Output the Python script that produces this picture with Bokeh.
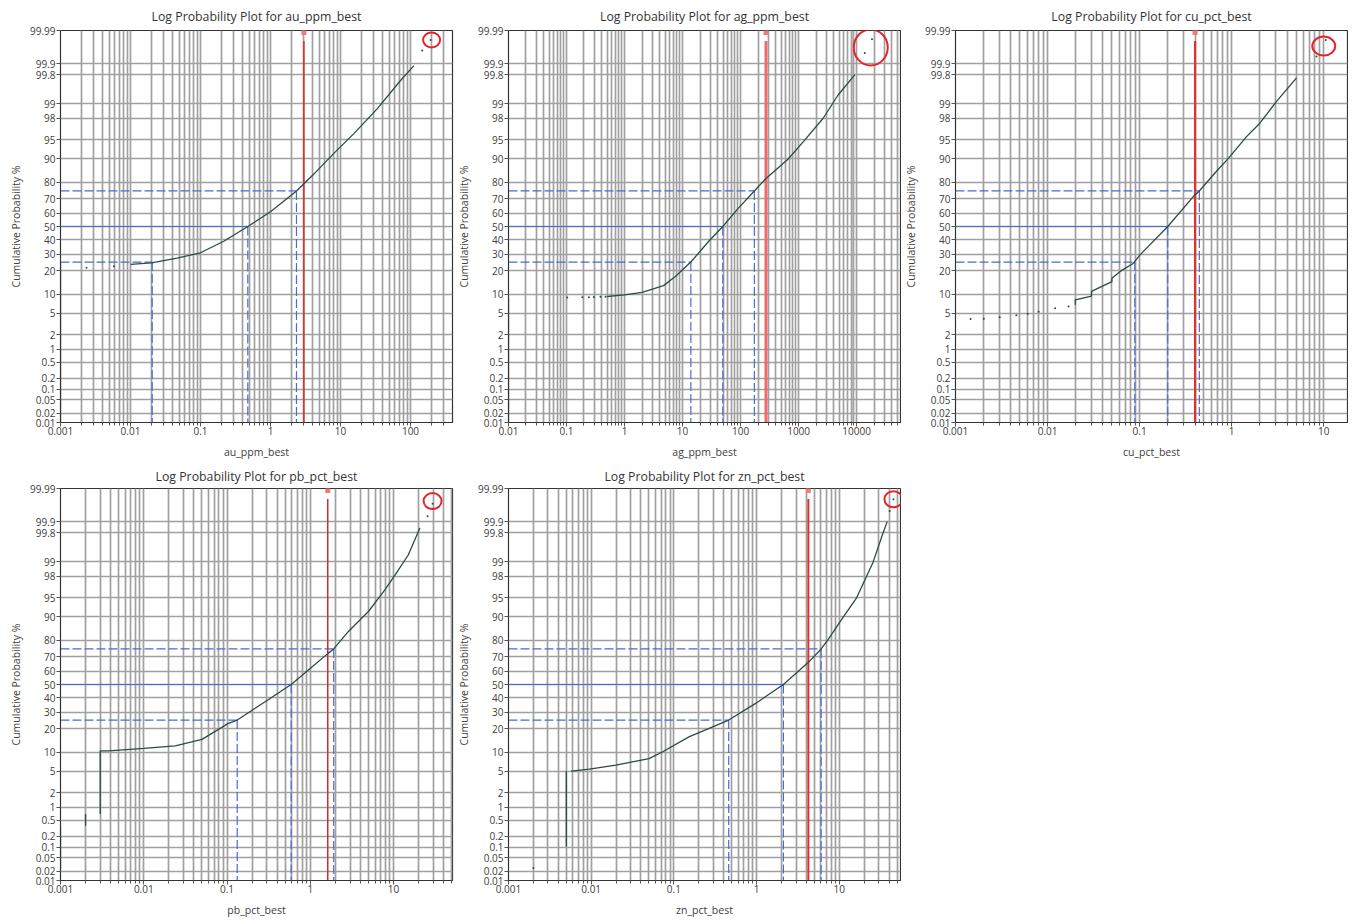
from statistics import NormalDist
import math
from bokeh.plotting import figure
from bokeh.layouts import gridplot
from bokeh.models import FixedTicker, Range1d
from bokeh.embed import file_html
from bokeh.resources import INLINE

# ---------------- data ----------------
PROB_TICKS = [0.01, 0.02, 0.05, 0.1, 0.2, 0.5, 1, 2, 5, 10, 20, 30, 40, 50,
              60, 70, 80, 90, 95, 98, 99, 99.8, 99.9, 99.99]
PROB_LABELS = ["0.01", "0.02", "0.05", "0.1", "0.2", "0.5", "1", "2", "5", "10",
               "20", "30", "40", "50", "60", "70", "80", "90", "95", "98", "99",
               "99.8", "99.9", "99.99"]

variables = ["au_ppm_best", "ag_ppm_best", "cu_pct_best", "pb_pct_best", "zn_pct_best"]

# au
au_curve_x = [0.0100, 0.0200, 0.0464, 0.100, 0.215, 0.474, 1.00, 2.35, 4.16, 7.9, 15.5, 33.4, 72, 112]
au_curve_p = [23.6, 24.5, 27.4, 30.9, 39.0, 50.0, 61.0, 75.0, 84.0, 91.6, 96.1, 98.72, 99.72, 99.887]
au_dots_x = [0.00235, 0.0058, 147, 193]
au_dots_p = [21.7, 22.6, 99.958, 99.98]
au_step_x = [0.001]
au_step_p0 = [0.01]
au_step_p1 = [24.5]
au_quart = [0.0204, 0.474, 2.35]
au_red = 3.0
au_max = (200, 99.98)

# ag
ag_curve_x = [0.5, 1.0, 2.0, 4.7, 7.5, 13.9, 28, 49.4, 91.6, 172.6, 274, 662, 1282, 2650, 4790, 9270]
ag_curve_p = [9.2, 9.7, 10.6, 13.1, 17.1, 25.0, 38.8, 50.0, 63.6, 75.0, 81.9, 90.0, 95.0, 98.0, 99.37, 99.8]
ag_dots_x = [0.103, 0.187, 0.243, 0.296, 0.385, 0.47, 13800, 18400]
ag_dots_p = [8.9, 8.95, 9.0, 9.05, 9.1, 9.15, 99.95, 99.981]
ag_step_x = [0.01]
ag_step_p0 = [0.01]
ag_step_p1 = [8.9]
ag_quart = [13.9, 49.4, 172.6]
ag_red = 274
ag_max = (17500, 99.966)

# cu
cu_curve_x = [0.02, 0.02, 0.03, 0.03, 0.05, 0.05, 0.0615, 0.0857, 0.101, 0.202, 0.383, 0.445,
              0.687, 0.92, 1.45, 2.02, 3.07, 5.06]
cu_curve_p = [6.85, 8.2, 9.3, 10.9, 14.8, 16.3, 19.7, 24.3, 29.5, 50.0, 71.5, 75.0,
              85.4, 90.2, 95.6, 97.5, 99.12, 99.76]
cu_dots_x = [0.00146, 0.00203, 0.00302, 0.00458, 0.00608, 0.008, 0.0121, 0.0169, 8.34, 10.5]
cu_dots_p = [3.98, 4.0, 4.27, 4.6, 4.87, 5.3, 6.05, 6.45, 99.937, 99.98]
cu_step_x = []
cu_step_p0 = []
cu_step_p1 = []
cu_quart = [0.0887, 0.202, 0.445]
cu_red = 0.4
cu_max = (10, 99.969)

# pb
pb_curve_x = [0.003, 0.0038, 0.01, 0.0239, 0.05, 0.1026, 0.1325, 0.315, 0.589, 1.02, 1.62, 1.91,
              2.87, 4.99, 7.89, 10.4, 15.0, 20.7]
pb_curve_p = [10.4, 10.4, 11.3, 12.2, 14.9, 22.9, 25.0, 38.8, 50.0, 62.4, 72.1, 75.0,
              84.3, 91.7, 96.4, 98.1, 99.3, 99.85]
pb_dots_x = [25.6, 29.4]
pb_dots_p = [99.93, 99.97]
pb_step_x = [0.001, 0.002, 0.003]
pb_step_p0 = [0.023, 0.37, 0.7]
pb_step_p1 = [0.35, 0.7, 10.4]
pb_quart = [0.1325, 0.589, 1.91]
pb_red = 1.62
pb_max = (29.4, 99.975)

# zn
zn_curve_x = [0.0057, 0.0095, 0.0199, 0.05, 0.0724, 0.152, 0.46, 0.964, 2.11, 4.23, 6.03,
              7.25, 11.2, 16.2, 21.4, 25.7, 33.9, 38.0]
zn_curve_p = [5.0, 5.4, 6.3, 8.0, 10.0, 16.0, 25.0, 35.8, 50.0, 66.3, 75.0,
              80.0, 90.0, 95.0, 98.0, 99.0, 99.8, 99.9]
zn_dots_x = [0.002, 40.7, 45.2]
zn_dots_p = [0.025, 99.95, 99.978]
zn_step_x = [0.005]
zn_step_p0 = [0.105]
zn_step_p1 = [5.0]
zn_quart = [0.46, 2.11, 6.03]
zn_red = 4.23
zn_max = (45.2, 99.978)

x_ranges = [(0.001, 398), (0.01, 57000), (0.001, 18.1), (0.001, 51), (0.001, 55)]

# ---------------- helpers ----------------
ND = NormalDist()


def z(p):
    return ND.inv_cdf(p / 100.0)


ZMIN, ZMAX = z(0.01), z(99.99)
Y_TICKS = [z(p) for p in PROB_TICKS]
Y_OVR = {t: lab for t, lab in zip(Y_TICKS, PROB_LABELS)}

FONT = "Open Sans"
GRID = "#a0a0a0"
CURVE = "#2d4a47"
QBLUE = "#4a6bd0"
RED = "#e3262a"


def fmt(v):
    if v >= 1:
        return str(int(round(v)))
    return f"{v:g}"


def make_panel(var, xr, cx, cp, dx, dp, sx, sp0, sp1, quart, red, mx, circ_wh,
               red_w, red_col, borders, title_standoff):
    xmin, xmax = xr
    bl, br, bt, bb = borders
    p = figure(x_axis_type="log", x_range=Range1d(xmin, xmax), y_range=Range1d(ZMIN, ZMAX),
               frame_width=392, frame_height=392, output_backend="svg",
               toolbar_location=None, min_border_left=bl, min_border_right=br,
               min_border_top=bt, min_border_bottom=bb, background_fill_color="white",
               border_fill_color="white")
    d0 = int(math.floor(math.log10(xmin) + 1e-9))
    d1 = int(math.ceil(math.log10(xmax)))
    majors, minors = [], []
    for d in range(d0, d1 + 1):
        base = 10.0 ** d
        b = float(f"{base:.12g}")
        if xmin * 0.999 <= b <= xmax * 1.001:
            majors.append(b)
        for k in range(2, 10):
            v = float(f"{k * base:.12g}")
            if xmin <= v <= xmax:
                minors.append(v)
    xt = FixedTicker(ticks=majors, minor_ticks=minors)
    p.xaxis.ticker = xt
    p.xgrid.ticker = xt
    p.xaxis.major_label_overrides = {t: fmt(t) for t in majors}
    yt = FixedTicker(ticks=Y_TICKS, minor_ticks=[])
    p.yaxis.ticker = yt
    p.ygrid.ticker = yt
    p.yaxis.major_label_overrides = Y_OVR

    for g in (p.xgrid, p.ygrid):
        g.grid_line_color = GRID
        g.grid_line_width = 1.7
    p.xgrid.minor_grid_line_color = GRID
    p.xgrid.minor_grid_line_width = 1.7

    for ax in (p.xaxis, p.yaxis):
        ax.axis_line_color = "#333333"
        ax.major_tick_line_color = "#555555"
        ax.minor_tick_line_color = "#555555"
        ax.major_tick_in = 0
        ax.major_tick_out = 4
        ax.minor_tick_in = 0
        ax.major_label_text_font = FONT
        ax.major_label_text_font_size = "10px"
        ax.major_label_text_color = "#404040"
        ax.axis_label_text_font = FONT
        ax.axis_label_text_font_size = "10.5px"
        ax.axis_label_text_font_style = "normal"
        ax.axis_label_text_color = "#404040"
    p.xaxis.minor_tick_out = 3
    p.yaxis.minor_tick_out = 0
    p.xaxis.major_label_standoff = 0
    p.yaxis.major_label_standoff = 1
    p.xaxis.axis_label_standoff = 7
    p.yaxis.axis_label_standoff = 4
    p.xaxis.axis_label = var
    p.yaxis.axis_label = "Cumulative Probability %"

    p.outline_line_color = "#333333"
    p.outline_line_width = 1.2

    p.title.text = f"Log Probability Plot for {var}"
    p.title.align = "center"
    p.title.text_font = FONT
    p.title.text_font_size = "12.3px"
    p.title.text_font_style = "normal"
    p.title.text_color = "#333333"
    p.title.standoff = title_standoff

    qp = [25, 50, 75]
    for q, pp in zip(quart, qp):
        dash = "solid" if pp == 50 else "9 3"
        p.segment(x0=[xmin], y0=[z(pp)], x1=[q], y1=[z(pp)], line_color=QBLUE,
                  line_width=1.2, line_dash=dash)
        p.segment(x0=[q], y0=[z(pp)], x1=[q], y1=[ZMIN], line_color=QBLUE,
                  line_width=1.2, line_dash="9 3")

    p.segment(x0=[red], y0=[ZMIN], x1=[red], y1=[3.52], line_color=red_col, line_width=red_w)
    p.scatter(x=[red], y=[3.68], marker="square", size=5, fill_color="#f47a7a",
              line_color=None)

    if sx:
        p.segment(x0=sx, y0=[z(v) for v in sp0], x1=sx, y1=[z(v) for v in sp1],
                  line_color=CURVE, line_width=1.3)
    p.line(cx, [z(v) for v in cp], line_color=CURVE, line_width=1.3)
    p.scatter(dx, [z(v) for v in dp], marker="circle", size=2, fill_color=CURVE,
              line_color=None)

    p.ellipse(x=[mx[0]], y=[z(mx[1])], width=circ_wh[0], height=circ_wh[1],
              width_units="screen", height_units="screen", fill_color=None,
              line_color=RED, line_width=2)
    return p


p1 = make_panel(variables[0], x_ranges[0], au_curve_x, au_curve_p, au_dots_x, au_dots_p,
                au_step_x, au_step_p0, au_step_p1, au_quart, au_red, au_max, (17, 15),
                1.5, "#d42a2a", (60, 2, 30, 39), 11)
p2 = make_panel(variables[1], x_ranges[1], ag_curve_x, ag_curve_p, ag_dots_x, ag_dots_p,
                ag_step_x, ag_step_p0, ag_step_p1, ag_quart, ag_red, ag_max, (34, 36),
                3, "#ef6b6b", (54, 1, 30, 39), 11)
p3 = make_panel(variables[2], x_ranges[2], cu_curve_x, cu_curve_p, cu_dots_x, cu_dots_p,
                cu_step_x, cu_step_p0, cu_step_p1, cu_quart, cu_red, cu_max, (23, 19),
                2.2, "#e03030", (54, 1, 30, 39), 11)
p4 = make_panel(variables[3], x_ranges[3], pb_curve_x, pb_curve_p, pb_dots_x, pb_dots_p,
                pb_step_x, pb_step_p0, pb_step_p1, pb_quart, pb_red, pb_max, (18, 16),
                1.5, "#d42a2a", (60, 2, 27, 39), 8)
p5 = make_panel(variables[4], x_ranges[4], zn_curve_x, zn_curve_p, zn_dots_x, zn_dots_p,
                zn_step_x, zn_step_p0, zn_step_p1, zn_quart, zn_red, zn_max, (18, 16),
                2, "#e03030", (54, 1, 27, 39), 8)

grid = gridplot([[p1, p2, p3], [p4, p5, None]], toolbar_location=None)

open("out.html", "w").write(file_html(grid, INLINE))
